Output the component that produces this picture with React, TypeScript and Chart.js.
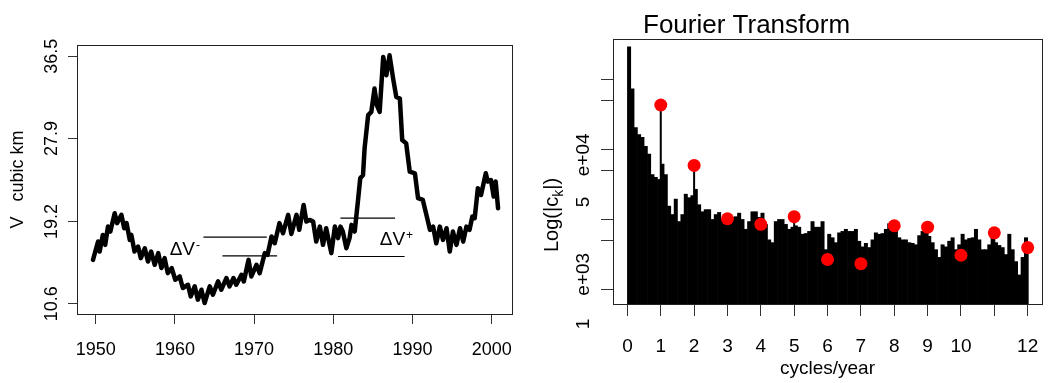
import React, { useEffect, useRef } from "react";
import { Chart, registerables } from "chart.js";
Chart.register(...registerables);

const FONT = '"Liberation Sans", Arial, Helvetica, sans-serif';

// ---------- Left panel: lake volume ----------
const volYears = [
  1949.66, 1950.3, 1950.5, 1950.9, 1951.2, 1951.55, 1951.85, 1952.4, 1952.7, 1953.25,
  1953.6, 1953.9, 1954.3, 1954.5, 1954.9, 1955.35, 1955.7, 1956.2, 1956.6, 1957.0,
  1957.45, 1957.9, 1958.3, 1958.7, 1959.1, 1959.6, 1960.05, 1960.6, 1961.0, 1961.65,
  1962.0, 1962.5, 1962.9, 1963.35, 1963.75, 1964.4, 1964.8, 1965.45, 1965.85, 1966.5,
  1966.9, 1967.4, 1967.75, 1968.4, 1968.7, 1969.3, 1969.65, 1970.3, 1970.7, 1971.35,
  1971.7, 1972.2, 1972.6, 1973.2, 1973.65, 1974.3, 1974.7, 1975.35, 1975.7, 1976.25,
  1976.6, 1977.0, 1977.45, 1977.85, 1978.3, 1978.7, 1979.1, 1979.75, 1980.2, 1980.6,
  1980.9, 1981.2, 1981.65, 1982.05, 1982.3, 1982.7, 1983.1, 1983.4, 1983.75, 1983.95,
  1984.4, 1984.8, 1985.2, 1985.5, 1985.85, 1986.3, 1986.7, 1987.1, 1987.55, 1987.95,
  1988.4, 1988.7, 1989.2, 1989.65, 1990.3, 1990.7, 1991.3, 1991.75, 1992.2, 1992.6,
  1993.0, 1993.45, 1993.85, 1994.3, 1994.7, 1995.1, 1995.55, 1996.0, 1996.4, 1996.8,
  1997.2, 1997.55, 1997.85, 1998.25, 1998.65, 1999.25, 1999.5, 1999.9, 2000.25, 2000.5,
  2000.8,
];
const volValues = [
  15.19, 17.11, 16.06, 17.8, 16.76, 18.67, 18.15, 20.07, 19.03, 19.9,
  18.5, 19.03, 17.28, 17.8, 16.06, 16.58, 15.37, 16.4, 15.02, 16.06,
  14.67, 15.89, 14.33, 15.37, 13.8, 14.33, 13.1, 13.45, 12.24, 12.58,
  11.36, 12.41, 11.02, 12.06, 10.67, 12.41, 11.54, 12.93, 12.06, 13.28,
  12.41, 13.28, 12.58, 13.63, 12.93, 15.19, 13.45, 14.67, 13.8, 15.89,
  15.72, 17.63, 16.93, 19.03, 17.98, 19.9, 17.9, 19.9, 18.33, 20.94,
  19.2, 19.37, 19.2, 17.1, 18.67, 16.76, 18.5, 15.89, 18.67, 17.46,
  18.67, 18.15, 16.41, 17.46, 18.85, 18.15, 21.28, 23.73, 24.07, 26.86,
  30.34, 30.68, 33.13, 31.38, 30.68, 36.43, 34.52, 36.6, 34.17, 32.25,
  32.08, 27.73, 27.38, 24.42, 24.25, 21.64, 21.46, 19.9, 18.33, 18.67,
  16.93, 18.67, 17.28, 18.5, 16.06, 18.15, 16.76, 18.5, 17.1, 18.67,
  18.33, 19.72, 19.55, 22.68, 21.98, 24.25, 23.38, 23.55, 21.81, 23.38,
  20.59,
];
const volTickValues = [10.6, 19.2, 27.9, 36.5];
const volTickLabels = ["10.6", "19.2", "27.9", "36.5"];
const yearTicks = [1950, 1960, 1970, 1980, 1990, 2000];
const yearTickLabels = ["1950", "1960", "1970", "1980", "1990", "2000"];
const volAxisTitle = "V   cubic km";

// delta-V reference segments
const dvLineX0 = [1963.6, 1966.0, 1980.9, 1980.6];
const dvLineX1 = [1971.6, 1972.9, 1987.8, 1989.0];
const dvLineY = [17.57, 15.61, 19.55, 15.54];
const dvLabelX = [1959.34, 1985.86];
const dvLabelY = [16.24, 17.25];
const dvLabelSup = ["-", "+"];

const YEAR_MIN = 1947.64;
const YEAR_MAX = 2002.56;
const VOL_MIN = 9.52;
const VOL_MAX = 37.68;

// ---------- Right panel: Fourier transform ----------
const FREQ_STEP = 0.1;
const spectrumLog10 = [
  6.46, 5.86, 5.31, 5.21, 5.17, 5.04, 4.93, 4.64, 4.60, 4.57,
  4.79, 4.64, 4.19, 4.07, 4.29, 3.97, 4.07, 4.36, 4.31, 4.34,
  4.43, 4.21, 4.11, 4.14, 4.14, 4.00, 4.07, 4.10, 4.00, 3.93,
  3.93, 4.03, 4.04, 4.09, 4.00, 3.86, 3.97, 4.11, 4.11, 4.03,
  4.09, 3.93, 3.71, 3.67, 3.97, 4.00, 4.00, 3.93, 3.86, 3.89,
  3.91, 3.89, 3.79, 3.80, 3.83, 3.97, 3.89, 3.89, 3.97, 3.57,
  3.79, 3.74, 3.67, 3.81, 3.83, 3.86, 3.83, 3.83, 3.86, 3.69,
  3.61, 3.66, 3.60, 3.71, 3.81, 3.79, 3.80, 3.86, 3.94, 3.91,
  3.83, 3.74, 3.71, 3.71, 3.67, 3.66, 3.64, 3.77, 3.83, 3.81,
  3.76, 3.67, 3.57, 3.46, 3.64, 3.61, 3.69, 3.74, 3.57, 3.64,
  3.79, 3.71, 3.73, 3.74, 3.86, 3.71, 3.57, 3.57, 3.64, 3.76,
  3.67, 3.63, 3.60, 3.50, 3.79, 3.57, 3.40, 3.21, 3.46, 3.74,
];
const harmonicFreqs = [1, 2, 3, 4, 5, 6, 7, 8, 9, 10, 11, 12];
const harmonicLog10 = [5.63, 4.77, 4.01, 3.93, 4.04, 3.43, 3.37, 3.91, 3.89, 3.49, 3.81, 3.60];
const freqTicks = [0, 1, 2, 3, 4, 5, 6, 7, 8, 9, 10, 11, 12];
const freqTickLabels = ["0", "1", "2", "3", "4", "5", "6", "7", "8", "9", "10", "", "12"];
const magTickValues = [1e3, 5e3, 1e4, 5e4, 1e5, 5e5, 1e6];
const magLabelTexts = ["1", "e+03", "5", "e+04"];
const magLabelLog10 = [2.51, 3.22, 4.25, 4.92];

const FREQ_MIN = -0.432;
const FREQ_MAX = 12.43;
const LOG_MIN = 2.796;
const LOG_MAX = 6.57;

function rotText(ctx: CanvasRenderingContext2D, text: string, x: number, y: number) {
  ctx.save();
  ctx.translate(x, y);
  ctx.rotate(-Math.PI / 2);
  ctx.textAlign = "center";
  ctx.textBaseline = "alphabetic";
  ctx.fillText(text, 0, 0);
  ctx.restore();
}

function drawBox(ctx: CanvasRenderingContext2D, a: any) {
  ctx.save();
  ctx.strokeStyle = "#222";
  ctx.lineWidth = 1;
  ctx.strokeRect(Math.round(a.left) + 0.5, Math.round(a.top) + 0.5, Math.round(a.right - a.left), Math.round(a.bottom - a.top));
  ctx.restore();
}

const leftTextPlugin = {
  id: "leftText",
  afterDraw(chart: any) {
    const { ctx, chartArea: a, scales } = chart;
    const xs = scales.x;
    const ys = scales.y;
    drawBox(ctx, a);
    ctx.save();
    ctx.fillStyle = "#000";
    ctx.font = `18px ${FONT}`;
    ctx.textAlign = "center";
    ctx.textBaseline = "alphabetic";
    yearTicks.forEach((v, i) => ctx.fillText(yearTickLabels[i], xs.getPixelForValue(v), a.bottom + 41));
    volTickValues.forEach((v, i) => rotText(ctx, volTickLabels[i], a.left - 20, ys.getPixelForValue(v)));
    rotText(ctx, volAxisTitle, a.left - 54, (a.top + a.bottom) / 2);
    // delta V labels
    dvLabelX.forEach((xv, i) => {
      const px = xs.getPixelForValue(xv);
      const py = ys.getPixelForValue(dvLabelY[i]);
      ctx.font = `19px ${FONT}`;
      ctx.textAlign = "left";
      ctx.textBaseline = "middle";
      ctx.fillText("\u0394V", px, py);
      const w = ctx.measureText("\u0394V").width;
      ctx.font = `12px ${FONT}`;
      ctx.fillText(dvLabelSup[i], px + w + 1, py - 4);
    });
    ctx.restore();
  },
};

const rightTextPlugin = {
  id: "rightText",
  afterDraw(chart: any) {
    const { ctx, chartArea: a, scales } = chart;
    const xs = scales.x;
    const ys = scales.y;
    drawBox(ctx, a);
    ctx.save();
    ctx.fillStyle = "#000";
    ctx.font = `19px ${FONT}`;
    ctx.textAlign = "center";
    ctx.textBaseline = "alphabetic";
    freqTicks.forEach((v, i) => ctx.fillText(freqTickLabels[i], xs.getPixelForValue(v), a.bottom + 47.5));
    ctx.fillText("cycles/year", (a.left + a.right) / 2, a.bottom + 70);
    magLabelTexts.forEach((t, i) => rotText(ctx, t, a.left - 24.5, ys.getPixelForValue(Math.pow(10, magLabelLog10[i]))));
    // axis title Log(|c_k|)
    ctx.save();
    ctx.translate(a.left - 55, a.top + 176);
    ctx.rotate(-Math.PI / 2);
    ctx.textBaseline = "alphabetic";
    ctx.textAlign = "left";
    const f1 = `20px ${FONT}`;
    const f2 = `14px ${FONT}`;
    ctx.font = f1;
    const w1 = ctx.measureText("Log(|c").width;
    const w3 = ctx.measureText("|)").width;
    ctx.font = f2;
    const w2 = ctx.measureText("k").width;
    const total = w1 + w2 + w3;
    let cx = -total / 2;
    ctx.font = f1;
    ctx.fillText("Log(|c", cx, 0);
    cx += w1;
    ctx.font = f2;
    ctx.fillText("k", cx, 5);
    cx += w2;
    ctx.font = f1;
    ctx.fillText("|)", cx, 0);
    ctx.restore();
    // main title
    ctx.font = `26px ${FONT}`;
    ctx.textAlign = "left";
    ctx.fillText("Fourier Transform", a.left + 30, a.top - 6);
    ctx.restore();
  },
};

function leftConfig(): any {
  return {
    type: "line",
    data: {
      datasets: [
        {
          data: volYears.map((x, i) => ({ x, y: volValues[i] })),
          borderColor: "#000",
          borderWidth: 4.5,
          pointRadius: 0,
          tension: 0,
          borderJoinStyle: "round",
          borderCapStyle: "round",
          fill: false,
        },
        ...dvLineY.map((y, i) => ({
          data: [
            { x: dvLineX0[i], y },
            { x: dvLineX1[i], y },
          ],
          borderColor: "#000",
          borderWidth: 1.2,
          pointRadius: 0,
          fill: false,
        })),
      ],
    },
    options: {
      animation: false,
      responsive: false,
      devicePixelRatio: 1,
      layout: { padding: { left: 0, top: 45, right: 8, bottom: 0 } },
      plugins: { legend: { display: false }, tooltip: { enabled: false } },
      scales: {
        x: {
          type: "linear",
          min: YEAR_MIN,
          max: YEAR_MAX,
          afterBuildTicks: (s: any) => {
            s.ticks = yearTicks.map((v) => ({ value: v }));
          },
          afterFit: (s: any) => {
            s.height = 69;
          },
          ticks: { display: false },
          grid: { drawOnChartArea: false, drawTicks: true, tickLength: 10, color: "#333", lineWidth: 1 },
          border: { display: false },
        },
        y: {
          type: "linear",
          min: VOL_MIN,
          max: VOL_MAX,
          afterBuildTicks: (s: any) => {
            s.ticks = volTickValues.map((v) => ({ value: v }));
          },
          afterFit: (s: any) => {
            s.width = 77;
          },
          ticks: { display: false },
          grid: { drawOnChartArea: false, drawTicks: true, tickLength: 9, color: "#333", lineWidth: 1 },
          border: { display: false },
        },
      },
    },
    plugins: [leftTextPlugin],
  };
}

function rightConfig(): any {
  const yMin = Math.pow(10, LOG_MIN);
  return {
    type: "bar",
    data: {
      datasets: [
        {
          type: "scatter",
          data: harmonicFreqs.map((x, i) => ({ x, y: Math.pow(10, harmonicLog10[i]) })),
          pointRadius: 6.5,
          pointHoverRadius: 6.5,
          backgroundColor: "#ff0000",
          borderColor: "#ff0000",
          borderWidth: 0,
        },
        {
          type: "line",
          data: harmonicFreqs.flatMap((x, i) => [
            { x, y: yMin },
            { x, y: Math.pow(10, harmonicLog10[i]) },
            { x, y: null },
          ]),
          borderColor: "#000",
          borderWidth: 2,
          pointRadius: 0,
          spanGaps: false,
          fill: false,
        },
        {
          type: "bar",
          data: spectrumLog10.map((v, i) => ({ x: (i + 0.5) * FREQ_STEP, y: Math.pow(10, v) })),
          backgroundColor: "#000",
          borderWidth: 0,
          barPercentage: 1,
          categoryPercentage: 1,
          grouped: false,
        },
      ],
    },
    options: {
      animation: false,
      responsive: false,
      devicePixelRatio: 1,
      layout: { padding: { left: 0, top: 39, right: 8, bottom: 0 } },
      plugins: { legend: { display: false }, tooltip: { enabled: false } },
      scales: {
        x: {
          type: "linear",
          min: FREQ_MIN,
          max: FREQ_MAX,
          offset: false,
          afterBuildTicks: (s: any) => {
            s.ticks = freqTicks.map((v) => ({ value: v }));
          },
          afterFit: (s: any) => {
            s.height = 79;
          },
          ticks: { display: false },
          grid: { offset: false, drawOnChartArea: false, drawTicks: true, tickLength: 12, color: "#333", lineWidth: 1 },
          border: { display: false },
        },
        y: {
          type: "logarithmic",
          min: yMin,
          max: Math.pow(10, LOG_MAX),
          afterBuildTicks: (s: any) => {
            s.ticks = magTickValues.map((v) => ({ value: v }));
          },
          afterFit: (s: any) => {
            s.width = 93;
          },
          ticks: { display: false },
          grid: { drawOnChartArea: false, drawTicks: true, tickLength: 12, color: "#333", lineWidth: 1 },
          border: { display: false },
        },
      },
    },
    plugins: [rightTextPlugin],
  };
}

export default function App() {
  const leftRef = useRef<HTMLCanvasElement>(null);
  const rightRef = useRef<HTMLCanvasElement>(null);
  useEffect(() => {
    const left = new Chart(leftRef.current as HTMLCanvasElement, leftConfig());
    const right = new Chart(rightRef.current as HTMLCanvasElement, rightConfig());
    return () => {
      left.destroy();
      right.destroy();
    };
  }, []);
  return (
    <div style={{ position: "absolute", left: 0, top: 0, width: 1050, height: 383, background: "#fff" }}>
      <canvas
        ref={leftRef}
        width={520}
        height={383}
        style={{ position: "absolute", left: 0, top: 0, width: 520, height: 383 }}
      />
      <canvas
        ref={rightRef}
        width={530}
        height={383}
        style={{ position: "absolute", left: 520, top: 0, width: 530, height: 383 }}
      />
    </div>
  );
}
